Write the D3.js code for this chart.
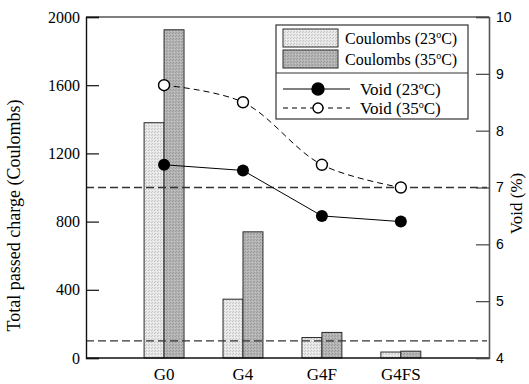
<!DOCTYPE html>
<html>
<head>
<meta charset="utf-8">
<script src="https://cdn.jsdelivr.net/npm/d3@7"></script>
<style>
  body { margin: 0; background: #fff; }
  svg { display: block; }
</style>
</head>
<body>
<svg id="chart" width="529" height="384"></svg>
<script>
// Mix groups
const groups = ["G0", "G4", "G4F", "G4FS"];
// Total passed charge (Coulombs)
const coulombs23 = [1380, 345, 120, 35];
const coulombs35 = [1925, 740, 150, 40];
// Void content (%)
const void23 = [7.4, 7.3, 6.5, 6.4];
const void35 = [8.8, 8.5, 7.4, 7.0];
// Axis ticks
const chargeTicks = [0, 400, 800, 1200, 1600, 2000];
const voidTicks = [4, 5, 6, 7, 8, 9, 10];
// Chloride-permeability limits (Coulombs)
const limitLines = [1000, 100];

const W = 529, H = 384;
const margin = { top: 17, right: 40, bottom: 26, left: 86 };
const iw = W - margin.left - margin.right;
const ih = H - margin.top - margin.bottom;

const svg = d3.select("#chart");
const defs = svg.append("defs");

// stippled fills for the bars
function stipple(id, base, dot, dot2) {
  const p = defs.append("pattern").attr("id", id)
    .attr("patternUnits", "userSpaceOnUse").attr("width", 3).attr("height", 3);
  p.append("rect").attr("width", 3).attr("height", 3).attr("fill", base);
  p.append("rect").attr("x", 0).attr("y", 0).attr("width", 1).attr("height", 1).attr("fill", dot);
  p.append("rect").attr("x", 1).attr("y", 2).attr("width", 1).attr("height", 1).attr("fill", dot2);
  p.append("rect").attr("x", 2).attr("y", 1).attr("width", 1).attr("height", 1).attr("fill", dot);
}
stipple("fill23", "#e6e6e6", "#c6c6c6", "#f4f4f4");
stipple("fill35", "#b4b4b4", "#989898", "#c4c4c4");

const g = svg.append("g").attr("transform", `translate(${margin.left},${margin.top})`);

const x = d3.scaleBand().domain(groups).range([0, iw])
  .paddingInner(0.494).paddingOuter(0.8).align(0.46);
const xSub = d3.scaleBand().domain(["c23", "c35"]).range([0, x.bandwidth()]);
const yL = d3.scaleLinear().domain([0, 2000]).range([ih, 0]);
const yR = d3.scaleLinear().domain([4, 10]).range([ih, 0]);

const serif = "'Liberation Serif', 'Times New Roman', serif";
const sans = "'Liberation Sans', Arial, sans-serif";

// bars
const barSeries = [
  { key: "c23", values: coulombs23, fill: "url(#fill23)" },
  { key: "c35", values: coulombs35, fill: "url(#fill35)" }
];
barSeries.forEach(s => {
  g.append("g").selectAll("rect").data(groups).join("rect")
    .attr("x", d => x(d) + xSub(s.key))
    .attr("y", (d, i) => yL(s.values[i]))
    .attr("width", xSub.bandwidth())
    .attr("height", (d, i) => yL(0) - yL(s.values[i]))
    .attr("fill", s.fill)
    .attr("stroke", "#2a2a2a")
    .attr("stroke-width", 1);
});

// limit lines
g.append("g").selectAll("line").data(limitLines).join("line")
  .attr("x1", 0).attr("x2", iw - 2)
  .attr("y1", d => yL(d)).attr("y2", d => yL(d))
  .attr("stroke", "#333").attr("stroke-width", 1.3)
  .attr("stroke-dasharray", "8,4");

// void lines
const cx = d => x(d) + x.bandwidth() / 2;
const line23 = d3.line().x((d, i) => cx(groups[i])).y(d => yR(d));
const line35 = d3.line().x((d, i) => cx(groups[i])).y(d => yR(d)).curve(d3.curveCatmullRom.alpha(0.5));

g.append("path").datum(void23).attr("d", line23)
  .attr("fill", "none").attr("stroke", "#000").attr("stroke-width", 1);
g.append("path").datum(void35).attr("d", line35)
  .attr("fill", "none").attr("stroke", "#000").attr("stroke-width", 1)
  .attr("stroke-dasharray", "6,4");

g.append("g").selectAll("circle").data(void23).join("circle")
  .attr("cx", (d, i) => cx(groups[i])).attr("cy", d => yR(d))
  .attr("r", 6).attr("fill", "#000");
g.append("g").selectAll("circle").data(void35).join("circle")
  .attr("cx", (d, i) => cx(groups[i])).attr("cy", d => yR(d))
  .attr("r", 5.5).attr("fill", "#fff").attr("stroke", "#000").attr("stroke-width", 1.4);

// frame
g.append("line").attr("x1", 0).attr("x2", iw).attr("y1", 0).attr("y2", 0)
  .attr("stroke", "#555").attr("stroke-width", 1.4);
g.append("line").attr("x1", 0).attr("x2", iw).attr("y1", ih).attr("y2", ih)
  .attr("stroke", "#111").attr("stroke-width", 1.4);

// left axis: inward ticks
const axL = g.append("g").call(d3.axisRight(yL).tickValues(chargeTicks).tickSize(13).tickFormat(""));
axL.select(".domain").attr("stroke", "#111").attr("stroke-width", 1.4);
axL.selectAll(".tick line").attr("stroke", "#111").attr("stroke-width", 1.2);
g.append("g").selectAll("text").data(chargeTicks).join("text")
  .attr("x", -6).attr("y", d => yL(d)).attr("dy", "0.35em")
  .attr("text-anchor", "end")
  .style("font-family", serif).style("font-size", "16px")
  .text(d => d);

// right axis: inward ticks
const axR = g.append("g").attr("transform", `translate(${iw},0)`)
  .call(d3.axisLeft(yR).tickValues(voidTicks).tickSize(13).tickFormat(""));
axR.select(".domain").attr("stroke", "#555").attr("stroke-width", 1.6);
axR.selectAll(".tick line").attr("stroke", "#444").attr("stroke-width", 1.2);
g.append("g").selectAll("text").data(voidTicks).join("text")
  .attr("x", iw + 7).attr("y", d => yR(d)).attr("dy", "0.35em")
  .attr("text-anchor", "start")
  .style("font-family", sans).style("font-size", "14px")
  .text(d => d);

// category labels
g.append("g").selectAll("text").data(groups).join("text")
  .attr("x", d => cx(d)).attr("y", ih + 22)
  .attr("text-anchor", "middle")
  .style("font-family", serif).style("font-size", "17px")
  .text(d => d);

// axis titles
svg.append("text")
  .attr("transform", `translate(20,${margin.top + ih / 2 + 28}) rotate(-90)`)
  .attr("text-anchor", "middle")
  .style("font-family", serif).style("font-size", "18px")
  .text("Total passed charge (Coulombs)");
svg.append("text")
  .attr("transform", `translate(522,${margin.top + ih / 2 + 16}) rotate(-90)`)
  .attr("text-anchor", "middle")
  .style("font-family", serif).style("font-size", "17px")
  .text("Void (%)");

// legend
const lg = svg.append("g").attr("transform", "translate(276,25)");
const lw = 192, lh = 94, split = 48;
lg.append("rect").attr("width", lw).attr("height", lh)
  .attr("fill", "#fff").attr("stroke", "#333").attr("stroke-width", 1.2);
lg.append("line").attr("x1", 0).attr("x2", lw).attr("y1", split).attr("y2", split)
  .attr("stroke", "#333").attr("stroke-width", 1.2);

// label with a raised "o" before the C, e.g. (23 oC)
function degLabel(sel, pre, temp) {
  sel.append("tspan").text(`${pre} (${temp}`);
  sel.append("tspan").attr("dy", "-6").style("font-size", "10px").text("o");
  sel.append("tspan").attr("dy", "6").text("C)");
}

const barLegend = [
  { fill: "url(#fill23)", temp: "23" },
  { fill: "url(#fill35)", temp: "35" }
];
barLegend.forEach((d, i) => {
  const yy = 4 + i * 21;
  lg.append("rect").attr("x", 7).attr("y", yy).attr("width", 55).attr("height", 18)
    .attr("fill", d.fill).attr("stroke", "#2a2a2a").attr("stroke-width", 1);
  const t = lg.append("text").attr("x", 69).attr("y", yy + 9).attr("dy", "0.35em")
    .style("font-family", serif).style("font-size", "16px");
  degLabel(t, "Coulombs", d.temp);
});

const lineLegend = [
  { dash: null, filled: true, temp: "23" },
  { dash: "5,4", filled: false, temp: "35" }
];
lineLegend.forEach((d, i) => {
  const yy = split + 16 + i * 19;
  lg.append("line").attr("x1", 7).attr("x2", 74).attr("y1", yy).attr("y2", yy)
    .attr("stroke", "#000").attr("stroke-width", 1)
    .attr("stroke-dasharray", d.dash);
  lg.append("circle").attr("cx", 42).attr("cy", yy).attr("r", d.filled ? 6 : 5)
    .attr("fill", d.filled ? "#000" : "#fff").attr("stroke", "#000").attr("stroke-width", 1.4);
  const t = lg.append("text").attr("x", 84).attr("y", yy).attr("dy", "0.35em")
    .style("font-family", serif).style("font-size", "17px");
  degLabel(t, "Void", d.temp);
});
</script>
</body>
</html>
